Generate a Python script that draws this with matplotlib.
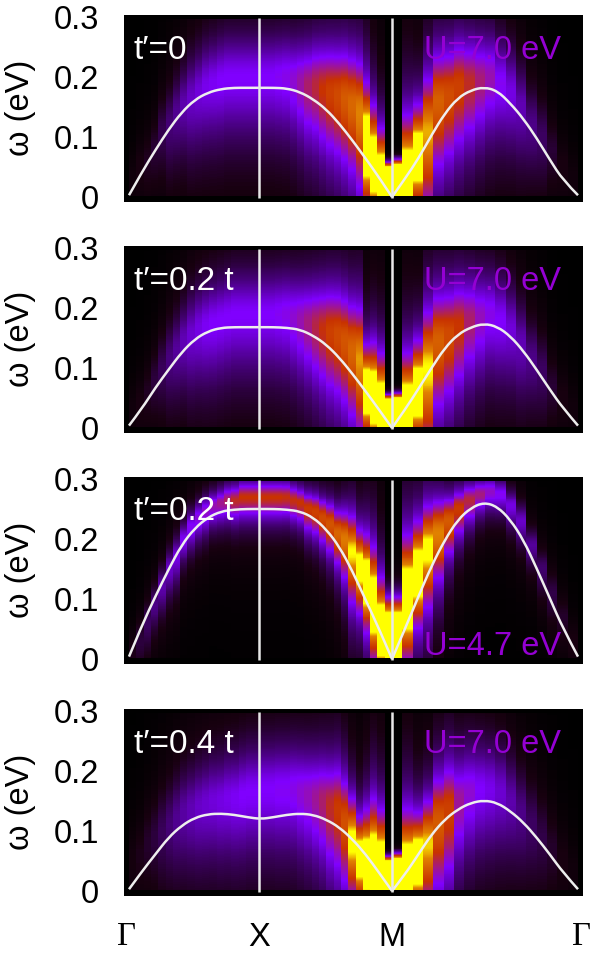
import numpy as np
import matplotlib
matplotlib.use("Agg")
import matplotlib.pyplot as plt
from matplotlib.colors import LinearSegmentedColormap
from matplotlib.patches import PathPatch
from matplotlib.path import Path

plt.rcParams["font.family"] = ["Liberation Sans", "DejaVu Sans"]

# path positions for the white dispersion curves
k_line = [0, .1, .2, .3, .4, .5, .6, .7, .8, .9, 1.0, 1.1, 1.2, 1.3, 1.4, 1.5, 1.6, 1.7, 1.8, 1.9, 2.0,
          2.1, 2.2, 2.3, 2.4, 2.5, 2.6, 2.7, 2.8, 2.9, 3.0, 3.1, 3.2, 3.3, 3.414]

line_1 = [.003, .042, .078, .112, .141, .162, .174, .180, .182, .182, .182, .182, .181, .175, .163, .146, .122, .094, .064, .033, 0,
          .031, .064, .103, .139, .165, .178, .183, .177, .156, .130, .098, .062, .028, .003]
line_2 = [.004, .033, .067, .097, .126, .148, .161, .167, .168, .168, .168, .168, .167, .164, .154, .139, .117, .090, .061, .031, 0,
          .031, .065, .100, .133, .156, .168, .174, .169, .153, .128, .097, .064, .033, .004]
line_3 = [.004, .057, .104, .149, .190, .218, .236, .246, .249, .250, .250, .250, .249, .246, .236, .216, .187, .146, .098, .051, 0,
          .051, .104, .155, .198, .232, .252, .261, .254, .232, .198, .151, .101, .051, .004]
line_4 = [.003, .033, .061, .089, .109, .122, .128, .129, .127, .123, .120, .123, .127, .129, .127, .119, .106, .086, .061, .031, 0,
          .028, .061, .094, .119, .136, .147, .151, .147, .133, .114, .089, .061, .031, .003]

# one entry per spectrum column: 36 along G-X-M then 18 along M-G
ridge_1 = [.03, .05, .06, .08, .11, .12, .14, .155, .165, .175, .185, .19, .195, .20, .20, .20, .20, .20,
           .20, .20, .20, .20, .195, .19, .185, .185, .18, .175, .17, .165, .155, .14, .085, .055, .03, .01,
           .01, .02, .068, .11, .16, .17, .185, .19, .195, .20, .19, .175, .15, .12, .10, .08, .05, .03]
amp_1 = [.05, .07, .09, .11, .14, .18, .21, .24, .27, .29, .31, .32, .33, .33, .33, .33, .33, .33,
         .33, .33, .34, .35, .37, .41, .46, .50, .55, .60, .64, .70, .75, .85, 2.2, 2.2, 2.5, 20,
         20, 3.0, 2.0, .90, .72, .65, .60, .52, .45, .40, .34, .30, .25, .20, .16, .11, .07, .05]
width_1 = [.05, .05, .05, .05, .055, .06, .06, .06, .065, .065, .065, .065, .065, .065, .065, .065, .065, .065,
           .065, .065, .065, .065, .065, .065, .065, .065, .065, .065, .065, .065, .065, .065, .045, .041, .033, .10,
           .11, .041, .038, .065, .065, .065, .065, .065, .065, .065, .065, .065, .065, .06, .06, .05, .05, .05]

ridge_2 = [.03, .04, .06, .08, .10, .115, .13, .145, .155, .165, .17, .175, .18, .185, .19, .19, .19, .19,
           .19, .19, .19, .19, .185, .18, .175, .17, .165, .16, .155, .145, .13, .115, .061, .05, .03, .01,
           .01, .02, .06, .10, .145, .155, .17, .18, .185, .19, .18, .165, .14, .115, .095, .07, .05, .03]
amp_2 = [.05, .07, .09, .12, .15, .19, .22, .25, .28, .30, .32, .33, .33, .33, .33, .33, .33, .33,
         .33, .33, .34, .35, .37, .40, .44, .49, .54, .60, .64, .68, .74, .88, 2.2, 2.5, 2.5, 20,
         20, 3.0, 2.2, 1.0, .72, .64, .56, .46, .39, .35, .33, .29, .25, .20, .16, .11, .07, .05]
width_2 = [.05, .05, .05, .05, .055, .06, .06, .06, .065, .065, .065, .065, .065, .065, .065, .065, .065, .065,
           .065, .065, .065, .065, .065, .065, .065, .065, .065, .065, .065, .065, .065, .065, .033, .036, .037, .095,
           .10, .037, .036, .065, .065, .065, .065, .065, .065, .065, .065, .065, .065, .06, .06, .05, .05, .05]

ridge_3 = [.01, .03, .06, .09, .12, .15, .17, .20, .22, .235, .245, .255, .26, .265, .265, .27, .27, .27,
           .27, .27, .27, .27, .265, .26, .25, .245, .235, .225, .21, .20, .18, .155, .13, .09, .045, .02,
           .02, .10, .145, .185, .21, .23, .25, .265, .275, .28, .275, .255, .23, .19, .15, .11, .07, .03]
amp_3 = [.08, .12, .16, .20, .24, .27, .30, .32, .34, .36, .38, .40, .43, .47, .52, .55, .55, .55,
         .55, .55, .55, .54, .54, .55, .58, .60, .64, .68, .74, .82, 1.0, 1.3, 1.8, 2.2, 3.0, 4.0,
         4.0, 2.2, 1.8, 1.1, .85, .70, .58, .50, .44, .38, .34, .30, .27, .22, .17, .13, .10, .07]
width_3 = [.035, .035, .035, .03, .03, .03, .03, .025, .025, .024, .024, .022, .022, .022, .022, .022, .022, .022,
           .022, .022, .022, .022, .022, .022, .024, .025, .026, .028, .03, .035, .04, .035, .037, .041, .032, .09,
           .09, .045, .04, .045, .04, .032, .028, .025, .022, .022, .022, .024, .025, .025, .03, .035, .035, .035]

ridge_4 = [.05, .06, .08, .09, .10, .11, .12, .13, .135, .14, .145, .15, .15, .155, .155, .16, .165, .165,
           .17, .17, .17, .17, .17, .165, .16, .155, .15, .14, .135, .115, .085, .056, .046, .04, .03, .01,
           .01, .02, .05, .08, .115, .135, .15, .165, .17, .17, .165, .15, .13, .11, .09, .07, .05, .03]
amp_4 = [.06, .08, .10, .12, .15, .18, .21, .23, .25, .27, .28, .29, .30, .31, .32, .33, .33, .33,
         .33, .33, .34, .34, .35, .37, .39, .42, .46, .52, .58, .66, 1.1, 1.6, 2.0, 2.5, 3.0, 20,
         20, 3.0, 2.0, .95, .70, .60, .42, .37, .33, .31, .28, .24, .20, .16, .13, .10, .07, .05]
width_4 = [.06, .06, .065, .065, .07, .07, .07, .07, .07, .07, .07, .07, .07, .07, .07, .07, .07, .07,
           .07, .07, .07, .07, .07, .07, .07, .07, .07, .07, .07, .065, .045, .035, .04, .044, .037, .10,
           .11, .041, .036, .05, .065, .07, .07, .07, .07, .07, .07, .07, .07, .07, .07, .065, .06, .06]

t_labels = ["t\u2032=0", "t\u2032=0.2 t", "t\u2032=0.2 t", "t\u2032=0.4 t"]
u_labels = ["U=7.0 eV", "U=7.0 eV", "U=4.7 eV", "U=7.0 eV"]
tick_vals = [0, 0.1, 0.2, 0.3]
tick_text = ["0", "0.1", "0.2", "0.3"]
sym_pos = [-.02, .99, 2, 3.44]
sym_text = ["\u0393", "X", "M", "\u0393"]
sym_font = ["Liberation Serif", "Liberation Sans", "Liberation Sans", "Liberation Serif"]

ridges = [ridge_1, ridge_2, ridge_3, ridge_4]
amps = [amp_1, amp_2, amp_3, amp_4]
widths = [width_1, width_2, width_3, width_4]
lines = [line_1, line_2, line_3, line_4]

cmap = LinearSegmentedColormap.from_list("spec", [(0, "#000000"), (.07, "#180010"), (.33, "#8000ff"), (.55, "#c83200"),
                                                  (.85, "#e08000"), (1, "#ffff00")])

# column edges along the path and energy rows
k_edges = np.concatenate([np.arange(37) / 18, 2 + np.arange(1, 19) * np.sqrt(2) / 18])
w_edges = np.linspace(.002, .297, 181)
w_mid = (w_edges[:-1] + w_edges[1:]) / 2


def smooth_branch(ax, k, w):
    # quadratic pieces through the midpoints, one branch at a time so the cusp at M stays sharp
    pts = np.column_stack([k, w])
    verts = [pts[0]]
    codes = [Path.MOVETO]
    for i in range(1, len(pts) - 1):
        end = pts[-1] if i == len(pts) - 2 else (pts[i] + pts[i + 1]) / 2
        verts += [pts[i], end]
        codes += [Path.CURVE3, Path.CURVE3]
    ax.add_patch(PathPatch(Path(verts, codes), fill=False, edgecolor="#eeeeee", lw=1.8))


W, H = 590, 957
tops = [15, 246, 477, 709]
fig = plt.figure(figsize=(W / 100, H / 100), dpi=100)

for n in range(4):
    ax = fig.add_axes([124 / W, 1 - (tops[n] + 186.5) / H, 459 / W, 186.5 / H], facecolor="black")

    # line shape of each column from its read ridge, height and width
    r = np.array(ridges[n])[:, None]
    a = np.array(amps[n])[:, None]
    s = np.array(widths[n])[:, None]
    low = 1.5 / np.sqrt(np.maximum(a, 1))
    x = np.where(w_mid[None, :] > r, (w_mid[None, :] - r) / s, (w_mid[None, :] - r) / (s * low))
    # the two columns beside M cut off sharply, all others have long tails
    power = np.where(a >= 4, a, 1)
    spec = a / (1 + x ** 2) ** power

    ax.pcolormesh(k_edges, w_edges, spec.T, cmap=cmap, vmin=0, vmax=1, shading="flat", linewidth=0)
    for kv in sym_pos[1:3]:
        ax.plot([kv, kv], [-.001, .299], color="#e8e8e8", lw=1.8, solid_capstyle="butt")
    smooth_branch(ax, k_line[:21], lines[n][:21])
    smooth_branch(ax, k_line[20:], lines[n][20:])

    ax.set_xlim(-5 / 131.6, 3.414 + 5 / 131.6)
    ax.set_ylim(-4.5 / 600, 182 / 600)
    ax.set_yticks(tick_vals)
    ax.set_yticklabels(tick_text, fontsize=23.5)
    ax.tick_params(axis="y", length=0, pad=18)
    ax.set_ylabel("\u03c9 (eV)", fontsize=23.5, va="center")
    ax.yaxis.set_label_coords(-104 / 459, .5)
    for sp in ax.spines.values():
        sp.set_visible(False)

    if n == 3:
        ax.set_xticks(sym_pos)
        ax.set_xticklabels(sym_text, fontsize=23.5)
        for lab, fam in zip(ax.get_xticklabels(), sym_font):
            lab.set_fontfamily(fam)
        ax.tick_params(axis="x", length=0, pad=19)
    else:
        ax.set_xticks([])

    ax.text(134, H - (tops[n] + 44 if n != 2 else tops[n] + 43), t_labels[n], color="white", fontsize=24,
            transform=None)
    u_base = 655 if n == 2 else tops[n] + 44
    ax.text(424, H - u_base, u_labels[n], color="#9400d3", fontsize=23.5, transform=None)

fig.savefig("out.png", dpi=100)
